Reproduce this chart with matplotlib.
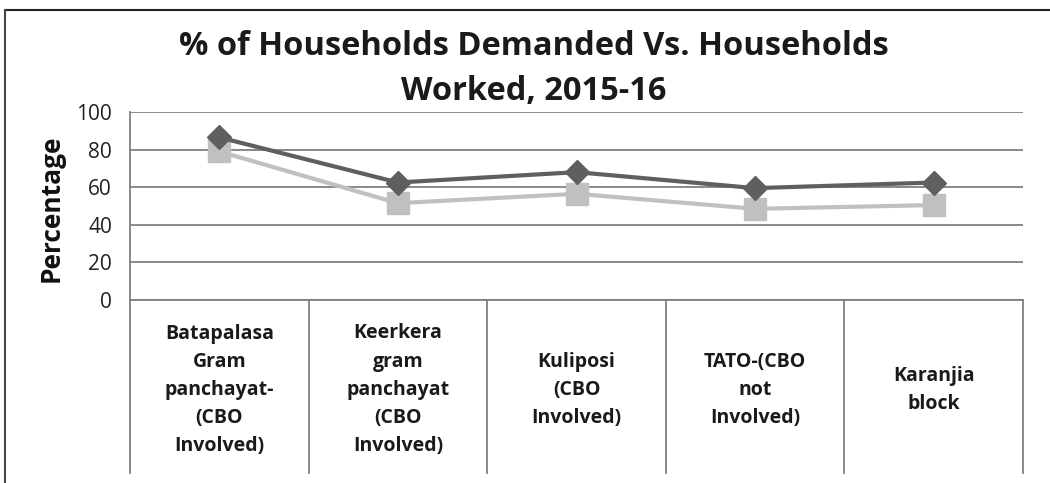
import matplotlib
matplotlib.use("Agg")
import matplotlib.pyplot as plt
from matplotlib.lines import Line2D
import matplotlib.transforms as mtransforms

categories = [
    "Batapalasa\nGram\npanchayat-\n(CBO\nInvolved)",
    "Keerkera\ngram\npanchayat\n(CBO\nInvolved)",
    "Kuliposi\n(CBO\nInvolved)",
    "TATO-(CBO\nnot\nInvolved)",
    "Karanjia\nblock",
]
demanded = [86.5, 62.5, 68, 59.5, 62.5]
worked = [79, 51.5, 56.5, 48.5, 50.5]
yticks = [0, 20, 40, 60, 80, 100]
title = "% of Households Demanded Vs. Households\nWorked, 2015-16"
ylabel = "Percentage"

plt.rcParams['font.family'] = ['Open Sans', 'DejaVu Sans']

W, H = 1050, 483
fig = plt.figure(figsize=(W / 100, H / 100), dpi=100)
ax = fig.add_axes([130 / W, (H - 300) / H, (1023 - 130) / W, (300 - 112) / H])

x = list(range(len(categories)))
ax.plot(x, worked, color="#c0c0c0", lw=3, marker="s", ms=16.5, zorder=3)
ax.plot(x, demanded, color="#5f5f5f", lw=3, marker="D", ms=12.5, zorder=4)

ax.set_xlim(-0.5, len(categories) - 0.5)
ax.set_ylim(0, 100)
ax.set_yticks(yticks)
ax.set_yticklabels([str(t) for t in yticks], fontsize=15)
ax.tick_params(axis="y", length=0, pad=13, colors="#222222")
ax.set_xticks([])
ax.yaxis.grid(True, color="#808080", lw=1.3)
ax.set_axisbelow(True)
for s in ["top", "right"]:
    ax.spines[s].set_visible(False)
ax.spines["left"].set_color("#808080")
ax.spines["left"].set_linewidth(1.3)
ax.spines["bottom"].set_color("#808080")
ax.spines["bottom"].set_linewidth(1.3)

trans = mtransforms.blended_transform_factory(ax.transData, ax.transAxes)
bottom_frac = -(473 - 300) / 188
for i in range(len(categories) + 1):
    ax.add_line(Line2D([i - 0.5, i - 0.5], [0, bottom_frac], transform=trans,
                       color="#808080", lw=1.3, clip_on=False))
center_frac = -(390 - 300) / 188
for i, c in enumerate(categories):
    ax.text(i, center_frac, c, transform=trans, ha="center", va="center",
            fontsize=14, fontweight="bold", linespacing=1.55, color="#1a1a1a")

fig.text(51 / W, 1 - 208 / H, ylabel, rotation=90, ha="center", va="center",
         fontsize=19, fontweight="bold", color="#111111")

fig.text(534 / W, 1 - 69 / H, title, ha="center", va="center", fontsize=23.5,
         fontweight="bold", linespacing=1.48, color="#1a1a1a")

# outer frame (top and left)
fig.add_artist(Line2D([4.5 / W, 1.0], [1 - 9.5 / H, 1 - 9.5 / H],
                      transform=fig.transFigure, color="#222222", lw=1.5))
fig.add_artist(Line2D([4.5 / W, 4.5 / W], [0, 1 - 9.5 / H],
                      transform=fig.transFigure, color="#444444", lw=1.5))

fig.savefig("out.png", dpi=100)
